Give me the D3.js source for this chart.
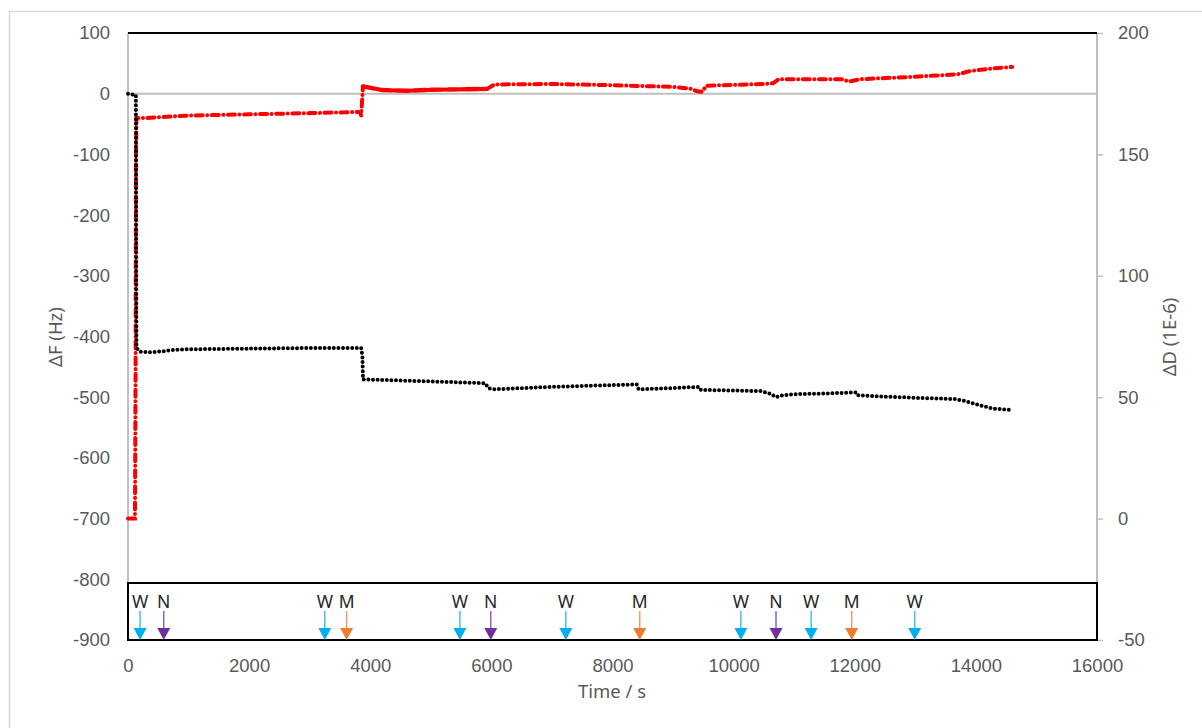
<!DOCTYPE html>
<html>
<head>
<meta charset="utf-8">
<script src="https://cdn.jsdelivr.net/npm/d3@7"></script>
<style>
  body { margin: 0; background: #fff; }
  svg { display: block; font-family: "Noto Sans", "Open Sans", sans-serif; }
  .tick text { fill: #595959; font-size: 18.5px; }
</style>
</head>
<body>
<svg id="chart" width="1202" height="728"></svg>
<script>
// ΔF (Hz) – left axis, black markers: [time s, Hz]
const freqPoints = [
  [0, 0], [130, -2], [133, -150], [136, -300], [140, -415], [160, -422], [200, -425],
  [400, -426], [600, -424], [750, -422], [1000, -421], [2000, -420], [3000, -419],
  [3850, -419], [3870, -432], [3880, -471], [4000, -471], [5000, -474], [5900, -477],
  [5950, -485], [6050, -487], [7000, -483], [8000, -480], [8400, -479], [8430, -487],
  [9000, -485], [9430, -483], [9460, -488], [10000, -489], [10450, -490], [10600, -494],
  [10700, -500], [10800, -497], [11000, -495], [11500, -494], [12030, -492], [12060, -497],
  [12500, -499], [13000, -501], [13650, -503], [13850, -507], [14050, -513], [14300, -519],
  [14600, -521]
];

// ΔD (1E-6) – right axis, red markers: [time s, 1E-6]
const dissPoints = [
  [0, 0], [115, 0], [125, 60], [132, 150], [140, 165], [300, 165], [1000, 166],
  [2000, 166.5], [3000, 167], [3830, 167.5], [3850, 166], [3865, 172], [3880, 178]
];
const dissDense = [
  [3880, 178], [4200, 176.5], [4600, 176.2], [5000, 176.6], [5500, 176.8], [5930, 177]
];
const dissTail = [
  [5930, 177], [6050, 178.8], [7000, 179], [8000, 178.5], [9000, 177.8], [9300, 177],
  [9400, 176], [9480, 175.8], [9550, 178.3], [10500, 179], [10650, 179.3], [10750, 181],
  [11800, 181], [11900, 180], [12100, 181], [13000, 182], [13700, 183], [13900, 184.3],
  [14300, 185.5], [14600, 186]
];

// injection markers
const eventTimes = [200, 590, 3250, 3610, 5480, 5990, 7230, 8450, 10120, 10700, 11280, 11950, 12990];
const eventLabels = ['W', 'N', 'W', 'M', 'W', 'N', 'W', 'M', 'W', 'N', 'W', 'M', 'W'];
const eventColors = { W: '#00b0f0', N: '#7030a0', M: '#ed7d31' };

const timeTicks = d3.range(0, 16001, 2000);
const freqTicks = d3.range(-900, 101, 100);
const dissTicks = d3.range(-50, 201, 50);

const svg = d3.select('#chart');
const plotL = 128, plotR = 1097, plotT = 33, plotB = 640;
const boxTop = 583;

const x = d3.scaleLinear().domain([0, 16000]).range([plotL, plotR]);
const yF = d3.scaleLinear().domain([-900, 100]).range([plotB, plotT]);
const yD = d3.scaleLinear().domain([-50, 200]).range([plotB, plotT]);

// chart area border (only top/left visible in frame)
svg.append('rect')
  .attr('x', 9.5).attr('y', 11.5).attr('width', 1210).attr('height', 730)
  .attr('fill', 'none').attr('stroke', '#d9d9d9').attr('stroke-width', 1.5);

const grey = '#bfbfbf';

// axes
const leftAxis = svg.append('g')
  .attr('transform', `translate(${plotL},0)`)
  .call(d3.axisLeft(yF).tickValues(freqTicks).tickSize(0).tickPadding(18).tickFormat(d => String(d)));
leftAxis.select('.domain').remove();

const rightAxis = svg.append('g')
  .attr('transform', `translate(${plotR},0)`)
  .call(d3.axisRight(yD).tickValues(dissTicks).tickSize(6).tickPadding(15).tickFormat(d => String(d)));
rightAxis.select('.domain').remove();
rightAxis.selectAll('line').attr('stroke', grey).attr('stroke-width', 1.5);

const bottomAxis = svg.append('g')
  .attr('transform', `translate(0,${plotB})`)
  .call(d3.axisBottom(x).tickValues(timeTicks).tickSize(0).tickPadding(19).tickFormat(d => String(d)));
bottomAxis.select('.domain').remove();

// axis lines
svg.append('line').attr('x1', plotL).attr('x2', plotL).attr('y1', plotT).attr('y2', plotB)
  .attr('stroke', grey).attr('stroke-width', 2);
svg.append('line').attr('x1', plotR).attr('x2', plotR).attr('y1', plotT).attr('y2', plotB)
  .attr('stroke', grey).attr('stroke-width', 2);
svg.append('line').attr('x1', plotL).attr('x2', plotR).attr('y1', yF(0)).attr('y2', yF(0))
  .attr('stroke', grey).attr('stroke-width', 2);
svg.append('line').attr('x1', plotL).attr('x2', plotR).attr('y1', plotT).attr('y2', plotT)
  .attr('stroke', '#000').attr('stroke-width', 2);

// event box
svg.append('rect')
  .attr('x', plotL).attr('y', boxTop).attr('width', plotR - plotL).attr('height', plotB - boxTop)
  .attr('fill', 'none').attr('stroke', '#000').attr('stroke-width', 2);

// axis titles
svg.append('text').attr('transform', 'translate(56,337) rotate(-90)')
  .attr('text-anchor', 'middle').attr('dy', '0.35em')
  .attr('fill', '#595959').style('font-size', '18.5px').text('ΔF (Hz)');
svg.append('text').attr('transform', 'translate(1170,337) rotate(-90)')
  .attr('text-anchor', 'middle').attr('dy', '0.35em')
  .attr('fill', '#595959').style('font-size', '18.5px').text('ΔD (1E-6)');
svg.append('text').attr('x', 612).attr('y', 692)
  .attr('text-anchor', 'middle').attr('dy', '0.35em')
  .attr('fill', '#595959').style('font-size', '18.5px').text('Time / s');

// series
const lineF = d3.line().x(d => x(d[0])).y(d => yF(d[1]));
const lineD = d3.line().x(d => x(d[0])).y(d => yD(d[1]));

svg.append('path').datum(dissPoints).attr('d', lineD)
  .attr('fill', 'none').attr('stroke', '#ff0000').attr('stroke-width', 4)
  .attr('stroke-linecap', 'round').attr('stroke-dasharray', '7 4.5 0.1 4.5');
svg.append('path').datum(dissDense).attr('d', lineD)
  .attr('fill', 'none').attr('stroke', '#ff0000').attr('stroke-width', 4.4)
  .attr('stroke-linecap', 'round').attr('stroke-dasharray', '12 2.5 0.1 2.5');
svg.append('path').datum(dissTail).attr('d', lineD)
  .attr('fill', 'none').attr('stroke', '#ff0000').attr('stroke-width', 4)
  .attr('stroke-linecap', 'round').attr('stroke-dasharray', '7 4.5 0.1 4.5');

svg.append('path').datum(freqPoints).attr('d', lineF)
  .attr('fill', 'none').attr('stroke', '#000').attr('stroke-width', 4)
  .attr('stroke-linecap', 'round').attr('stroke-dasharray', '0 4.6');

// event arrows
const events = eventTimes.map((t, i) => ({ t, label: eventLabels[i] }));
const ev = svg.append('g').selectAll('g').data(events).join('g')
  .attr('transform', d => `translate(${x(d.t)},0)`);
ev.append('text').attr('y', 602).attr('dy', '0.35em').attr('text-anchor', 'middle')
  .attr('fill', '#262626').style('font-size', '17.5px').text(d => d.label);
ev.append('line').attr('y1', 611).attr('y2', 631)
  .attr('stroke', d => eventColors[d.label]).attr('stroke-width', 1.5).attr('opacity', 0.75);
ev.append('path').attr('d', 'M-6.5,628 L6.5,628 L0,640 Z')
  .attr('fill', d => eventColors[d.label]);
</script>
</body>
</html>
